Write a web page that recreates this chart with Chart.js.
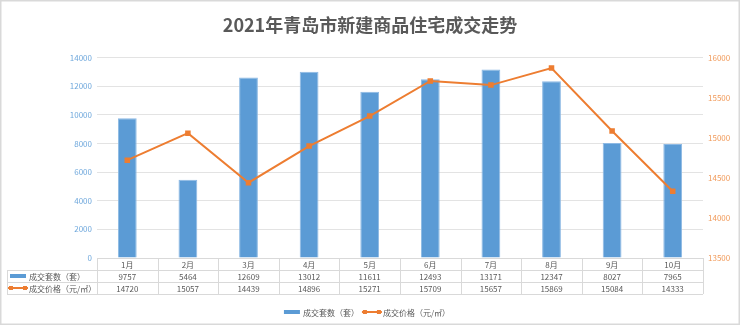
<!DOCTYPE html>
<html>
<head>
<meta charset="utf-8">
<script src="https://cdn.jsdelivr.net/npm/chart.js@4/dist/chart.umd.min.js"></script>
<style>
  body { margin: 0; background: #fff; }
  canvas { display: block; }
</style>
</head>
<body>
<canvas id="trendChart" width="740" height="325"></canvas>
<script>
// data
const months = ['1月', '2月', '3月', '4月', '5月', '6月', '7月', '8月', '9月', '10月'];
const dealCount = [9757, 5464, 12609, 13012, 11611, 12493, 13171, 12347, 8027, 7965];
const dealPrice = [14720, 15057, 14439, 14896, 15271, 15709, 15657, 15869, 15084, 14333];
const countLabel = '成交套数（套）';
const priceLabel = '成交价格（元/㎡）';

const BLUE = '#5B9BD5';
const ORANGE = '#ED7D31';
const GRID = '#D9D9D9';
const TEXT = '#595959';
const FONT = '"Noto Sans CJK SC", "Microsoft YaHei", sans-serif';

Chart.defaults.font.family = FONT;

function barKey(ctx, x, y) {
    ctx.fillStyle = BLUE;
    ctx.fillRect(x, y - 2, 16, 4);
}
function lineKey(ctx, x, y) {
    ctx.strokeStyle = ORANGE;
    ctx.lineWidth = 2;
    ctx.beginPath();
    ctx.moveTo(x, y);
    ctx.lineTo(x + 20, y);
    ctx.stroke();
    ctx.fillStyle = ORANGE;
    ctx.fillRect(x + 1, y - 2, 4, 4);
    ctx.fillRect(x + 15, y - 2, 4, 4);
}

// data table + bottom legend + frame
const tablePlugin = {
    id: 'dataTable',
    afterDraw(chart) {
        const ctx = chart.ctx;
        const ca = chart.chartArea;
        const n = months.length;
        const colW = (ca.right - ca.left) / n;
        const rowH = 12;
        const top = ca.bottom;
        const left = 7;
        ctx.save();
        ctx.strokeStyle = GRID;
        ctx.lineWidth = 1;
        ctx.beginPath();
        ctx.moveTo(ca.left, top + 0.5);
        ctx.lineTo(ca.right, top + 0.5);
        for (let r = 1; r <= 3; r++) {
            ctx.moveTo(left, Math.round(top + r * rowH) + 0.5);
            ctx.lineTo(ca.right, Math.round(top + r * rowH) + 0.5);
        }
        for (let i = 0; i <= n; i++) {
            const x = Math.round(ca.left + i * colW) + 0.5;
            ctx.moveTo(x, top);
            ctx.lineTo(x, top + 3 * rowH);
        }
        ctx.moveTo(left + 0.5, top + rowH);
        ctx.lineTo(left + 0.5, top + 3 * rowH);
        ctx.stroke();

        ctx.font = '8px ' + FONT;
        ctx.fillStyle = TEXT;
        ctx.textAlign = 'center';
        ctx.textBaseline = 'middle';
        for (let i = 0; i < n; i++) {
            const cx = chart.scales.x.getPixelForValue(i);
            ctx.fillText(months[i], cx, top + rowH * 0.5 + 1);
            ctx.fillText(String(dealCount[i]), cx, top + rowH * 1.5 + 1);
            ctx.fillText(String(dealPrice[i]), cx, top + rowH * 2.5 + 1);
        }
        ctx.textAlign = 'left';
        barKey(ctx, 10, top + rowH * 1.5);
        lineKey(ctx, 8, top + rowH * 2.5);
        ctx.fillStyle = TEXT;
        ctx.fillText(countLabel, 29, top + rowH * 1.5 + 1);
        ctx.fillText(priceLabel, 29, top + rowH * 2.5 + 1);

        // bottom legend
        const ly = 312;
        const w1 = ctx.measureText(countLabel).width;
        const w2 = ctx.measureText(priceLabel).width;
        const total = 16 + 3 + w1 + 3 + 20 + 1 + w2;
        let lx = chart.width / 2 - total / 2 - 3;
        barKey(ctx, lx, ly);
        lx += 19;
        ctx.fillStyle = TEXT;
        ctx.fillText(countLabel, lx, ly + 1);
        lx += w1 + 3;
        lineKey(ctx, lx, ly);
        lx += 21;
        ctx.fillStyle = TEXT;
        ctx.fillText(priceLabel, lx, ly + 1);

        // frame
        ctx.strokeStyle = GRID;
        ctx.strokeRect(0.5, 0.5, chart.width - 1, chart.height - 1);
        ctx.restore();
    }
};

const bgPlugin = {
    id: 'whiteBg',
    beforeDraw(chart) {
        const ctx = chart.ctx;
        ctx.save();
        ctx.fillStyle = '#fff';
        ctx.fillRect(0, 0, chart.width, chart.height);
        ctx.restore();
    }
};

new Chart(document.getElementById('trendChart').getContext('2d'), {
    type: 'bar',
    data: {
        labels: months,
        datasets: [{
            type: 'bar',
            label: countLabel,
            data: dealCount,
            yAxisID: 'y',
            backgroundColor: BLUE,
            borderColor: '#8DB9E4',
            borderWidth: 1,
            barPercentage: 0.31,
            categoryPercentage: 1,
            order: 2
        }, {
            type: 'line',
            label: priceLabel,
            data: dealPrice,
            yAxisID: 'y1',
            borderColor: ORANGE,
            backgroundColor: ORANGE,
            borderWidth: 2,
            pointStyle: 'rect',
            pointRadius: 2.5,
            tension: 0,
            order: 1
        }]
    },
    options: {
        responsive: false,
        animation: false,
        layout: { padding: { top: 0, bottom: 31, left: 0, right: 0 } },
        plugins: {
            legend: { display: false },
            tooltip: { enabled: false },
            title: {
                display: true,
                text: '2021年青岛市新建商品住宅成交走势',
                color: TEXT,
                font: { size: 18, weight: 'bold', family: FONT },
                padding: { top: 14, bottom: 22 }
            }
        },
        scales: {
            x: {
                grid: { display: false },
                border: { display: false },
                ticks: { display: false },
                afterFit(scale) { scale.height = 36; }
            },
            y: {
                position: 'left',
                min: 0,
                max: 14000,
                ticks: { stepSize: 2000, color: '#6FA8DC', font: { size: 8 }, padding: 5, callback: v => String(v) },
                grid: { color: '#E3E3E3', drawTicks: false },
                border: { display: false },
                afterFit(scale) { scale.width = 97; }
            },
            y1: {
                position: 'right',
                min: 13500,
                max: 16000,
                ticks: { stepSize: 500, color: '#F19A5A', font: { size: 8 }, padding: 5, callback: v => String(v) },
                grid: { display: false, drawTicks: false },
                border: { display: false },
                afterFit(scale) { scale.width = 37; }
            }
        }
    },
    plugins: [bgPlugin, tablePlugin]
});
</script>
</body>
</html>
